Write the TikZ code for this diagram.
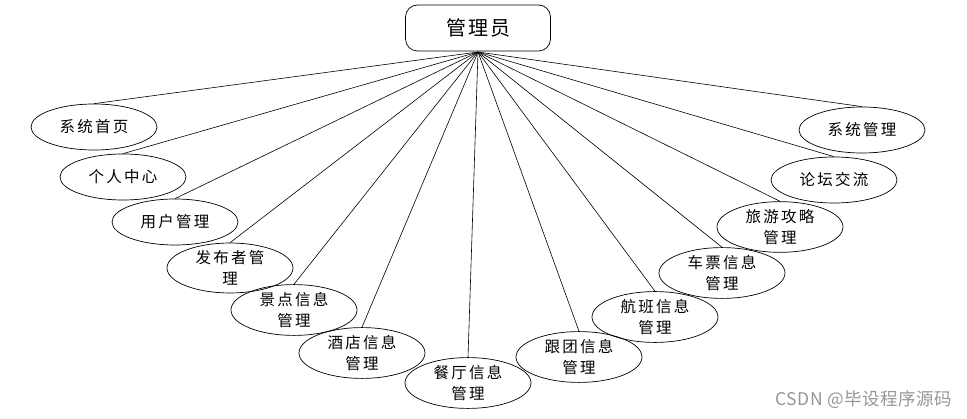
\documentclass[tikz,border=0pt]{standalone}
\usepackage{fontspec}
\usetikzlibrary{shapes.geometric}
\newfontfamily\cjk[LetterSpace=15]{Noto Sans CJK SC}
\newfontfamily\cjktop[LetterSpace=10]{Noto Sans CJK SC}
\newfontfamily\cjkwm[LetterSpace=3]{Noto Sans CJK SC}
\definecolor{wmgray}{RGB}{150,150,150}
\begin{document}
\begin{tikzpicture}[x=1pt,y=-1pt,
  leaf/.style={draw,ellipse,line width=0.7pt,minimum width=126pt,minimum height=46pt,inner sep=0pt,
    align=center,font=\cjk\fontsize{15.5}{21.5}\selectfont},
  topbox/.style={draw,rounded corners=12pt,line width=0.7pt,minimum width=145pt,minimum height=46pt,
    inner sep=0pt,font=\cjktop\fontsize{20}{22}\selectfont},
  link/.style={line width=0.6pt}]
\useasboundingbox (0,0) rectangle (967,419);
\node[topbox] (top) at (478,28) {管理员};
\coordinate (hub) at (478,52);
\node[leaf] (a1) at (94,127) {系统首页};
\node[leaf] (a2) at (123,177) {个人中心};
\node[leaf] (a3) at (175,222) {用户管理};
\node[leaf] (a4) at (230,268) {发布者管\\理};
\node[leaf] (a5) at (294,310) {景点信息\\管理};
\node[leaf] (a6) at (362,353) {酒店信息\\管理};
\node[leaf] (a7) at (468,383) {餐厅信息\\管理};
\node[leaf] (a8) at (579,357) {跟团信息\\管理};
\node[leaf] (a9) at (655,317) {航班信息\\管理};
\node[leaf] (a10) at (722,273) {车票信息\\管理};
\node[leaf] (a11) at (780,227) {旅游攻略\\管理};
\node[leaf] (a12) at (834,180) {论坛交流};
\node[leaf] (a13) at (862,130) {系统管理};
\foreach \i in {1,...,13} \draw[link] (hub) -- (a\i.north);
\node[font=\cjkwm\fontsize{17.5}{19}\selectfont,text=wmgray,anchor=east,inner sep=0pt] (wm) at (952,400) {CSDN @毕设程序源码};
\end{tikzpicture}
\end{document}
